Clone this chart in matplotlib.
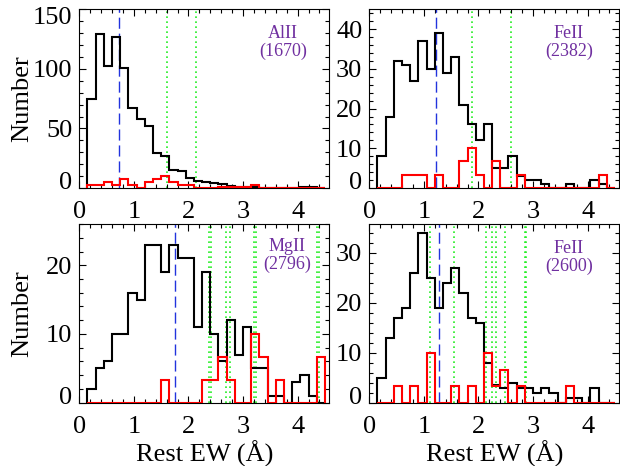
# plot.py
# rest-frame EW distributions for four absorption lines, all vs. subsample

import numpy as np
import matplotlib
matplotlib.use("Agg")
import matplotlib.pyplot as plt
from matplotlib.ticker import MultipleLocator
from matplotlib.transforms import ScaledTranslation

plt.rcParams["font.family"] = ["Liberation Serif", "DejaVu Serif"]

# histogram binning (rest EW in Angstrom)
bin_start = 0.15
bin_width = 0.15
n_bins = 29

# AlII 1670
alii_all = [75, 129, 102, 127, 101, 67, 58, 52, 29, 27, 15, 14, 8, 6, 5,
            4, 3, 2, 1, 1, 1, 0, 0, 0, 0, 0, 1, 1, 0]
alii_sub = [2.5, 2.5, 5, 2.5, 7.5, 2.5, 0, 5, 7.5, 10, 5, 2.5, 2.5, 0, 0,
            0, 1, 1, 1, 1, 2.5, 0, 0, 0, 0, 0, 0, 0, 0]
alii_median = 0.73
alii_marks = [1.60, 2.13]

# FeII 2382
fe2382_all = [8, 18, 32, 31, 27, 37, 30, 39, 29, 33, 21, 16, 12, 16, 5,
              5, 8, 3, 2, 2, 1, 0, 0, 1, 0, 0, 2, 1, 0]
fe2382_sub = [0, 0, 0, 3.35, 3.35, 3.35, 0, 3.35, 0, 0, 6.7, 10, 3.35, 0, 6.7,
              0, 0, 3.35, 0, 0, 0, 0, 0, 0, 0, 0, 0, 3.35, 0]
fe2382_median = 1.23
fe2382_marks = [1.89, 2.60]

# MgII 2796
mgii_all = [2, 5, 6, 10, 10, 16, 15, 23, 23, 19, 23, 21, 21, 11, 19,
            10, 6, 12, 7, 11, 5, 5, 1, 1, 0, 3, 4, 1, 0]
mgii_sub = [0, 0, 0, 0, 0, 0, 0, 0, 0, 3.3, 0, 0, 0, 0, 3.3,
            3.3, 6.7, 3.3, 0, 0, 10, 6.7, 0, 3.3, 0, 0, 0, 0, 6.7]
mgii_median = 1.76
mgii_marks = [2.38, 2.42, 2.69, 2.77, 3.20, 3.24, 4.36, 4.40]

# FeII 2600
fe2600_all = [5, 13, 17, 19, 26, 34, 25, 19, 24, 27, 22, 17, 16, 8, 3.5,
              3, 4, 3, 3, 2, 3, 2, 0, 1, 1, 0, 3, 0, 0]
fe2600_sub = [0, 0, 3.3, 0, 3.3, 0, 10, 0, 0, 3.3, 0, 3.3, 0, 10, 3.3,
              6.5, 0, 3.3, 0, 0, 0, 0, 0, 3.3, 0, 0, 0, 0, 0]
fe2600_median = 1.28
fe2600_marks = [1.12, 1.56, 2.13, 2.24, 2.33, 2.49, 2.85, 2.88]

panels = [
    ("AlII\n(1670)", alii_all, alii_sub, alii_median, alii_marks, 150, 50, 10),
    ("FeII\n(2382)", fe2382_all, fe2382_sub, fe2382_median, fe2382_marks, 45, 10, 2),
    ("MgII\n(2796)", mgii_all, mgii_sub, mgii_median, mgii_marks, 26, 10, 2),
    ("FeII\n(2600)", fe2600_all, fe2600_sub, fe2600_median, fe2600_marks, 35.7, 10, 2),
]

# axes boxes in figure fractions (left, bottom, width, height)
boxes = [
    (0.1279, 0.5966, 0.4032, 0.3834),
    (0.5956, 0.5966, 0.4032, 0.3834),
    (0.1279, 0.1358, 0.4032, 0.3835),
    (0.5956, 0.1358, 0.4032, 0.3835),
]
label_pos = [(0.815, 0.814), (0.799, 0.814), (0.831, 0.824), (0.799, 0.813)]

edges = bin_start + bin_width * np.arange(n_bins + 1)

fig = plt.figure(figsize=(6.2, 4.66), dpi=100)

for i, (name, h_all, h_sub, med, marks, ymax, ymaj, ymin_step) in enumerate(panels):
    ax = fig.add_axes(boxes[i])

    for m in marks:
        ax.axvline(m, color="#22ee22", lw=1.2, linestyle=(0, (1, 2.0)), zorder=1)
    ax.axvline(med, color="#2233dd", lw=1.0, linestyle=(0, (8, 3.5)), zorder=2)

    ax.stairs(h_all, edges, color="black", lw=1.5, zorder=3)
    ax.stairs(h_sub, edges, color="#ff0000", lw=1.5, zorder=4)

    ax.set_xlim(0, 4.58)
    ax.set_ylim(0, ymax)
    ax.set_xticks([0, 1, 2, 3, 4])
    ax.xaxis.set_minor_locator(MultipleLocator(0.2))
    ax.set_yticks(np.arange(0, ymax + 0.01, ymaj))
    ax.yaxis.set_minor_locator(MultipleLocator(ymin_step))

    ax.tick_params(which="both", direction="in", top=True, right=True,
                   labelsize=19, width=0.8)
    ax.tick_params(which="major", length=5)
    ax.tick_params(which="minor", length=2.8)
    ax.tick_params(axis="x", pad=9.5)
    ax.tick_params(axis="y", pad=5)
    for s in ax.spines.values():
        s.set_linewidth(0.8)

    # IDL keeps the end labels inside the axis range
    for tick, loc in zip(ax.yaxis.get_major_ticks(), ax.get_yticks()):
        dy = 0
        if loc == 0:
            dy = 5.4
        elif loc == ymax:
            dy = -4.1
        if dy:
            lab = tick.label1
            lab.set_transform(lab.get_transform()
                              + ScaledTranslation(0, dy / 72, fig.dpi_scale_trans))

    ax.text(label_pos[i][0], label_pos[i][1], name, transform=ax.transAxes,
            ha="center", va="center", fontsize=13, color="#7030a0",
            linespacing=1.1)

    if i % 2 == 0:
        ax.set_ylabel("Number", fontsize=19)
        ax.yaxis.set_label_coords(-0.185, 0.5)
    if i >= 2:
        ax.set_xlabel("Rest EW (Å)", fontsize=19)
        ax.xaxis.set_label_coords(0.5, -0.21)

fig.savefig("out.png", dpi=100)
